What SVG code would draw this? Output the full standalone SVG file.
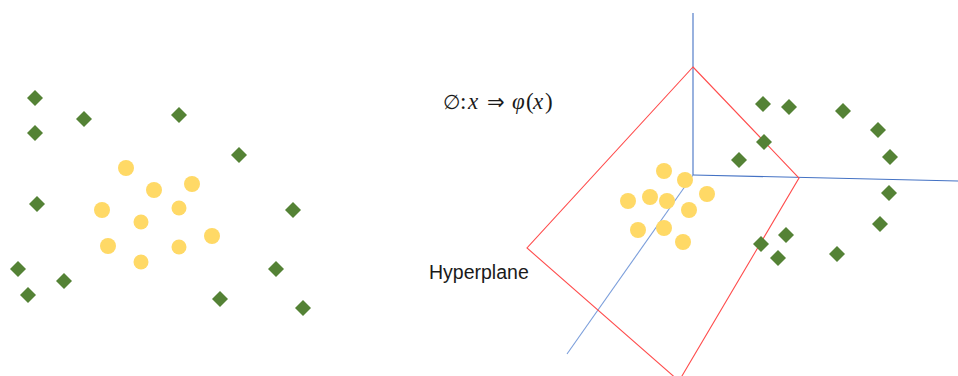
<svg xmlns="http://www.w3.org/2000/svg" width="958" height="376" viewBox="0 0 958 376">
<defs>
<style>
.d{fill:#548235}
.c{fill:#FFD966}
.ax{stroke:#4472C4;stroke-width:1.1;fill:none}
.ax2{stroke:#7B9EDB;stroke-width:1.1;fill:none}
.hp{stroke:#FF4D4D;stroke-width:1.1;fill:none}
.lbl{font-family:"Liberation Sans",Arial,sans-serif;font-size:19.5px;fill:#1a1a1a}
.math{font-family:"Liberation Serif","DejaVu Serif",serif;font-size:23px;fill:#1a1a1a}
.sym{font-family:"DejaVu Sans",sans-serif;font-style:normal}
</style>
<path id="dm" d="M0,-8 L8,0 L0,8 L-8,0 Z"/>
</defs>
<rect width="958" height="376" fill="#ffffff"/>

<g id="left-diamonds">
<use href="#dm" class="d" x="35" y="98"/>
<use href="#dm" class="d" x="84" y="119"/>
<use href="#dm" class="d" x="179" y="115"/>
<use href="#dm" class="d" x="35" y="133"/>
<use href="#dm" class="d" x="239" y="155"/>
<use href="#dm" class="d" x="37" y="204"/>
<use href="#dm" class="d" x="293" y="210"/>
<use href="#dm" class="d" x="18" y="269"/>
<use href="#dm" class="d" x="64" y="281"/>
<use href="#dm" class="d" x="28" y="295"/>
<use href="#dm" class="d" x="276" y="269"/>
<use href="#dm" class="d" x="220" y="299"/>
<use href="#dm" class="d" x="303" y="308"/>
</g>

<g id="left-circles">
<circle class="c" cx="126" cy="168" r="8"/>
<circle class="c" cx="154" cy="190" r="8"/>
<circle class="c" cx="192" cy="184" r="8"/>
<circle class="c" cx="102" cy="210" r="8"/>
<circle class="c" cx="179" cy="208" r="7.5"/>
<circle class="c" cx="141" cy="222" r="7.5"/>
<circle class="c" cx="212" cy="236" r="8"/>
<circle class="c" cx="108" cy="246" r="8"/>
<circle class="c" cx="179" cy="247" r="7.5"/>
<circle class="c" cx="141" cy="262" r="7.5"/>
</g>

<g id="formula">
<text class="math" y="109"><tspan x="443" class="sym" font-size="20">∅</tspan><tspan x="460">:</tspan><tspan x="468" font-style="italic">x</tspan><tspan x="487" class="sym" font-size="21">⇒</tspan><tspan x="512" font-style="italic">φ</tspan><tspan x="526">(</tspan><tspan x="533" font-style="italic">x</tspan><tspan x="545">)</tspan></text>
</g>

<g id="connectors">
<line class="ax" x1="693" y1="13" x2="693" y2="175"/>
<line class="ax" x1="693" y1="175" x2="958" y2="181"/>
<line class="ax2" x1="693" y1="175" x2="567" y2="354"/>
<polygon class="hp" points="693,67 799,178 679,381 527,248"/>
</g>

<g id="right-circles">
<circle class="c" cx="664" cy="171" r="8"/>
<circle class="c" cx="685" cy="180" r="8"/>
<circle class="c" cx="628" cy="201" r="8"/>
<circle class="c" cx="650" cy="197" r="8"/>
<circle class="c" cx="667" cy="201" r="8"/>
<circle class="c" cx="707" cy="194" r="8"/>
<circle class="c" cx="689" cy="210" r="8"/>
<circle class="c" cx="638" cy="230" r="8"/>
<circle class="c" cx="664" cy="228" r="8"/>
<circle class="c" cx="683" cy="242" r="8"/>
</g>

<g id="right-diamonds">
<use href="#dm" class="d" x="763" y="104"/>
<use href="#dm" class="d" x="789" y="107"/>
<use href="#dm" class="d" x="843" y="111"/>
<use href="#dm" class="d" x="878" y="130"/>
<use href="#dm" class="d" x="764" y="142"/>
<use href="#dm" class="d" x="739" y="160"/>
<use href="#dm" class="d" x="890" y="157"/>
<use href="#dm" class="d" x="889" y="193"/>
<use href="#dm" class="d" x="880" y="224"/>
<use href="#dm" class="d" x="786" y="235"/>
<use href="#dm" class="d" x="761" y="244"/>
<use href="#dm" class="d" x="778" y="258"/>
<use href="#dm" class="d" x="837" y="254"/>
</g>

<g id="hyperplane-label">
<text class="lbl" x="429" y="279">Hyperplane</text>
</g>
</svg>
